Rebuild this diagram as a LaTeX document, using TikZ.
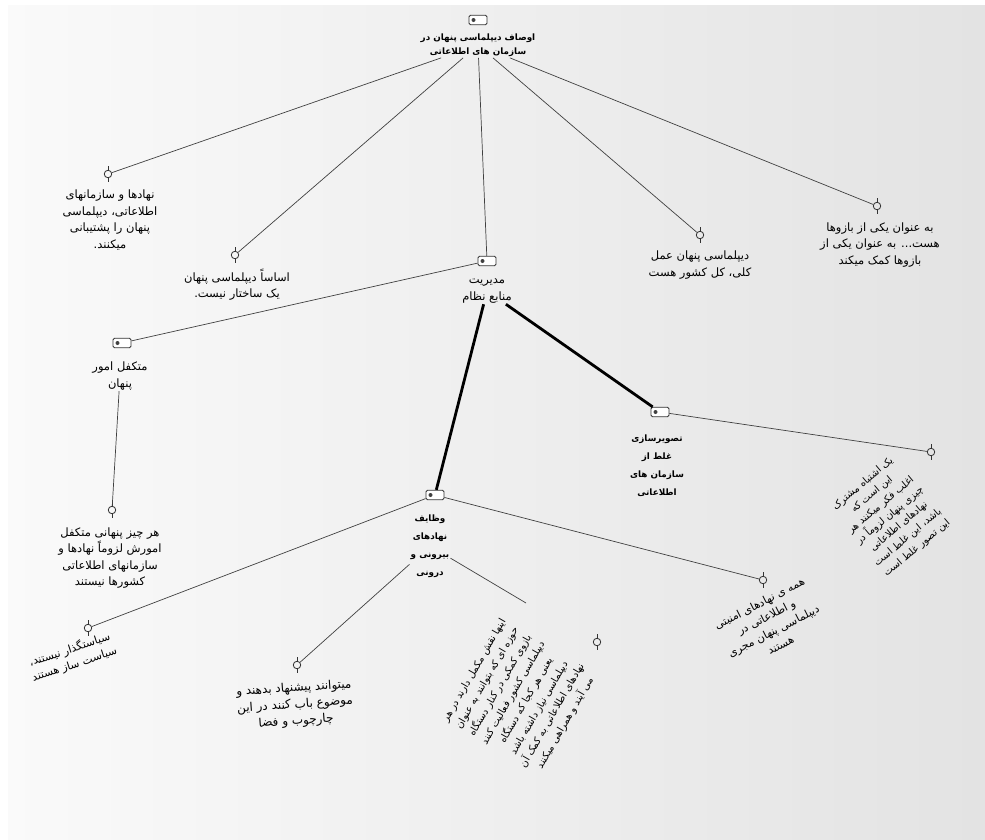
\documentclass[tikz,border=0pt]{standalone}
\usepackage{fontspec}
\setmainfont{DejaVu Sans}
\newfontfamily\arabicfont[Script=Arabic]{DejaVu Sans}
\TeXXeTstate=1
\newcommand{\fa}[1]{\beginR #1\endR}
\tikzset{
  txt/.style={font=\arabicfont\fontsize{11.5}{16.5}\selectfont, align=center, inner sep=1pt, text=black},
  btxt/.style={font=\arabicfont\bfseries\fontsize{8.8}{18}\selectfont, align=center, inner sep=1pt, text=black},
  leaficon/.style={circle, draw=black!80, line width=0.8pt, minimum size=7.5pt, inner sep=0pt,
    append after command={(\tikzlastnode.north) edge[line width=0.8pt, draw=black!80] ++(0,-3.5)
                          (\tikzlastnode.south) edge[line width=0.8pt, draw=black!80] ++(0,3.5)}},
  boxicon/.style={rectangle, rounded corners=1.5pt, draw=black!80, fill=white, line width=0.8pt,
    minimum width=18pt, minimum height=9.5pt, inner sep=0pt,
    path picture={\fill[black!75] ([xshift=4.5pt]path picture bounding box.west) circle (2pt);}},
  thin/.style={draw=black!75, line width=0.7pt},
  heavy/.style={draw=black, line width=2.8pt}
}
\begin{document}
\begin{tikzpicture}[x=1pt,y=-1pt]
\useasboundingbox (0,0) rectangle (985,839);
\fill[white] (0,0) rectangle (985,839);
\shade[left color=black!2, right color=black!11] (8,5) rectangle (985,839);

% root
\node[boxicon] (ri) at (478,20) {};
\node[btxt, font=\arabicfont\bfseries\fontsize{8.8}{14.5}\selectfont] (r) at (478,45) {\fa{اوصاف دیپلماسی پنهان در}\\\fa{سازمان های اطلاعاتی}};

% level 1
\node[leaficon] (n1i) at (108,174) {};
\node[txt] (n1) at (110,220) {\fa{نهادها و سازمانهای}\\\fa{اطلاعاتی، دیپلماسی}\\\fa{پنهان را پشتیبانی}\\\fa{میکنند.}};

\node[leaficon] (n2i) at (235,255) {};
\node[txt] (n2) at (237,285) {\fa{اساساً دیپلماسی پنهان}\\\fa{یک ساختار نیست.}};

\node[boxicon] (n3i) at (487,261) {};
\node[txt] (n3) at (487,291) {\fa{مدیریت}\\\fa{منابع نظام}};

\node[leaficon] (n4i) at (700,235) {};
\node[txt] (n4) at (700,265) {\fa{دیپلماسی پنهان عمل}\\\fa{کلی، کل کشور هست}};

\node[leaficon] (n5i) at (877,206) {};
\node[txt] (n5) at (880,245) {\fa{به عنوان یکی از بازوها}\\\fa{هست... به عنوان یکی از}\\\fa{بازوها کمک میکند}};

% level 2
\node[boxicon] (n6i) at (122,343) {};
\node[txt] (n6) at (120,376) {\fa{متکفل امور}\\\fa{پنهان}};

\node[leaficon] (n7i) at (112,510) {};
\node[txt] (n7) at (110,558) {\fa{هر چیز پنهانی متکفل}\\\fa{امورش لزوماً نهادها و}\\\fa{سازمانهای اطلاعاتی}\\\fa{کشورها نیستند}};

\node[boxicon] (n8i) at (660,412) {};
\node[btxt] (n8) at (657,466) {\fa{تصویرسازی}\\\fa{غلط از}\\\fa{سازمان های}\\\fa{اطلاعاتی}};

\node[leaficon] (n9i) at (931,452) {};
\node[txt, rotate=40, font=\arabicfont\fontsize{10}{14}\selectfont] (n9) at (890,516) {\fa{یک اشتباه مشترک}\\\fa{این است که}\\\fa{اغلب فکر میکنند هر}\\\fa{چیزی پنهان لزوماً در}\\\fa{نهادهای اطلاعاتی}\\\fa{باشد، این غلط است}\\\fa{این تصور غلط است}};

\node[boxicon] (n10i) at (435,495) {};
\node[btxt] (n10) at (430,546) {\fa{وظایف}\\\fa{نهادهای}\\\fa{بیرونی و}\\\fa{درونی}};

% level 3
\node[leaficon] (n11i) at (88,628) {};
\node[txt, rotate=18, font=\arabicfont\fontsize{11}{15.5}\selectfont] (n11) at (72,657) {\fa{سیاستگذار نیستند،}\\\fa{سیاست ساز هستند}};

\node[leaficon] (n12i) at (297,665) {};
\node[txt, rotate=4, font=\arabicfont\fontsize{12}{16.5}\selectfont] (n12) at (295,705) {\fa{میتوانند پیشنهاد بدهند و}\\\fa{موضوع باب کنند در این}\\\fa{چارچوب و فضا}};

\node[leaficon] (n13i) at (597,642) {};
\node[txt, rotate=60, font=\arabicfont\fontsize{10}{15}\selectfont] (n13) at (520,697) {\fa{اینها نقش مکمل دارند در هر}\\\fa{حوزه ای که بتوانند به عنوان}\\\fa{بازوی کمکی در کنار دستگاه}\\\fa{دیپلماسی کشور فعالیت کنند}\\\fa{یعنی هر کجا که دستگاه}\\\fa{دیپلماسی نیاز داشته باشد}\\\fa{نهادهای اطلاعاتی به کمک آن}\\\fa{می آیند و همراهی میکنند}};
\coordinate (n13c) at (526,603);

\node[leaficon] (n14i) at (763,580) {};
\node[txt, rotate=27, font=\arabicfont\fontsize{11}{15.5}\selectfont] (n14) at (770,624) {\fa{همه ی نهادهای امنیتی}\\\fa{و اطلاعاتی در}\\\fa{دیپلماسی پنهان مجری}\\\fa{هستند}};

% connectors
\draw[thin] (r) -- (n1i);
\draw[thin] (r) -- (n2i);
\draw[thin] (r) -- (n3i);
\draw[thin] (r) -- (n4i);
\draw[thin] (r) -- (n5i);
\draw[thin] (n3i) -- (n6i);
\draw[heavy] (n3) -- (n10i);
\draw[heavy] (n3) -- (n8i);
\draw[thin] (n6) -- (n7i);
\draw[thin] (n8i) -- (n9i);
\draw[thin] (n10i) -- (n11i);
\draw[thin] (n10) -- (n12i);
\draw[thin] (n10) -- (n13c);
\draw[thin] (n10i) -- (n14i);
\end{tikzpicture}
\end{document}
